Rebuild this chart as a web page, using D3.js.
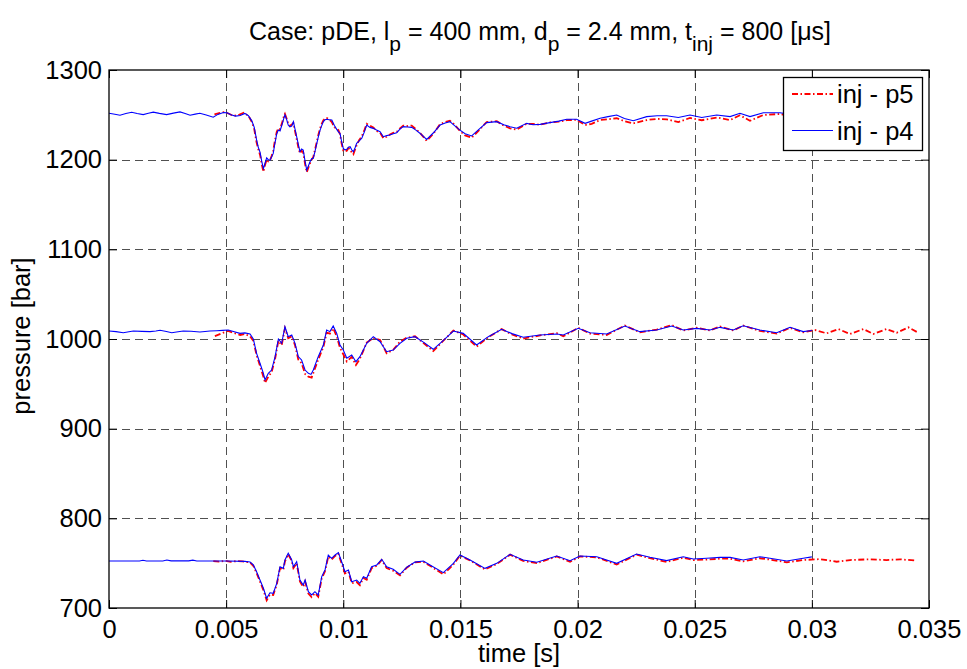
<!DOCTYPE html>
<html>
<head>
<meta charset="utf-8">
<script src="https://cdn.jsdelivr.net/npm/d3@7"></script>
<style>
  html, body { margin: 0; padding: 0; background: #fff; }
  svg { display: block; font-family: "Liberation Sans", Arial, Helvetica, sans-serif; }
</style>
</head>
<body>
<svg id="chart" width="967" height="669"></svg>
<script>
// Axis ticks
const xTicks = [0, 0.005, 0.01, 0.015, 0.02, 0.025, 0.03, 0.035];
const xTickLabels = ["0", "0.005", "0.01", "0.015", "0.02", "0.025", "0.03", "0.035"];
const yTicks = [700, 800, 900, 1000, 1100, 1200, 1300];

// Legend entries
const seriesNames = ["inj - p5", "inj - p4"];

// Pressure traces: [time in ms, pressure in bar]
// rail level ~1250 bar
const p4_1250 = [[0,1251.8],[0.25,1250.6],[0.47,1249.6],[0.72,1251.5],[0.97,1252.9],[1.2,1251.4],[1.46,1250.2],[1.68,1251.8],[1.89,1253.0],[2.15,1251.6],[2.46,1250.2],[2.75,1251.9],[3.03,1253.3],[3.25,1251.5],[3.46,1249.6],[3.68,1250.8],[3.88,1251.8],[4.15,1249.8],[4.45,1247.4],[4.65,1250.5],[4.88,1252.6],[5.04,1252.2],[5.2,1250.0],[5.4,1248.6],[5.6,1249.2],[5.8,1251.6],[5.95,1249.0],[6.1,1243],[6.2,1236],[6.3,1222],[6.37,1214],[6.45,1208],[6.52,1198],[6.59,1190],[6.66,1196],[6.73,1202],[6.8,1200],[6.87,1199.6],[6.94,1203],[7.01,1207],[7.08,1218],[7.16,1229],[7.23,1233],[7.3,1232],[7.36,1237],[7.41,1241],[7.46,1246],[7.51,1250],[7.58,1245],[7.65,1238.6],[7.72,1236.5],[7.8,1237.5],[7.87,1242.4],[7.94,1234],[8.01,1225.6],[8.08,1217],[8.15,1209],[8.22,1212],[8.29,1210.8],[8.37,1198],[8.44,1188.5],[8.51,1193],[8.58,1197.7],[8.65,1201],[8.72,1201.5],[8.8,1210],[8.87,1218.3],[8.94,1226],[9.01,1233],[9.08,1238],[9.15,1242.4],[9.22,1244.5],[9.29,1245],[9.4,1244.6],[9.51,1244.2],[9.62,1238],[9.72,1233.8],[9.79,1231],[9.86,1229.4],[9.93,1220],[10.0,1212.6],[10.07,1211],[10.15,1211.5],[10.22,1214],[10.29,1214.5],[10.36,1211],[10.43,1208.9],[10.5,1213],[10.57,1218.3],[10.68,1221],[10.79,1223.9],[10.9,1231],[11.0,1238.6],[11.14,1236],[11.28,1234.9],[11.42,1233],[11.57,1231.2],[11.71,1225.6],[11.85,1226.8],[11.99,1227.5],[12.13,1229],[12.28,1230.1],[12.42,1234],[12.56,1236.8],[12.74,1236.5],[12.92,1236.0],[13.1,1233],[13.27,1229.5],[13.56,1222.6],[13.85,1230],[14.13,1238.6],[14.35,1241],[14.55,1242.4],[14.75,1238],[14.98,1233],[15.2,1229],[15.48,1226.4],[15.8,1234],[16.12,1241.3],[16.55,1242.4],[16.85,1239],[17.12,1236.8],[17.4,1235],[17.83,1240.5],[18.1,1239],[18.4,1239.4],[18.82,1241.3],[19.2,1243],[19.54,1245],[19.96,1245],[20.32,1240.5],[20.6,1243],[20.96,1246.2],[21.3,1248],[21.67,1249.8],[22.0,1246],[22.38,1243.4],[22.95,1248],[23.4,1249],[23.8,1249],[24.3,1247],[24.8,1249.8],[25.3,1247],[25.94,1249.8],[26.51,1248],[26.93,1251.7],[27.36,1248],[27.93,1252.4],[28.64,1252.4],[29.2,1250],[30.0,1252]];
const p5_1250 = [[4.5,1250.5],[4.7,1252],[4.9,1253],[5.1,1251.5],[5.3,1249],[5.5,1249.5],[5.75,1252.3],[5.95,1249],[6.1,1242],[6.2,1234],[6.3,1219],[6.37,1212],[6.45,1205],[6.52,1195],[6.59,1186.5],[6.66,1194],[6.73,1200],[6.8,1198],[6.87,1199],[6.94,1204],[7.01,1210],[7.08,1221],[7.16,1231],[7.23,1235],[7.3,1234],[7.36,1239],[7.41,1243],[7.46,1248],[7.51,1251],[7.58,1246],[7.65,1240],[7.72,1238],[7.8,1239],[7.87,1241],[7.94,1232],[8.01,1223],[8.08,1214],[8.15,1207],[8.22,1210],[8.29,1208],[8.37,1195],[8.44,1186],[8.51,1191],[8.58,1196],[8.65,1200],[8.72,1203],[8.8,1212],[8.87,1220],[8.94,1228],[9.01,1235],[9.08,1240],[9.15,1244],[9.22,1246],[9.29,1246.5],[9.4,1245],[9.51,1242],[9.62,1236],[9.72,1235],[9.79,1233],[9.86,1228],[9.93,1218],[10.0,1210],[10.07,1209],[10.15,1210],[10.22,1213],[10.29,1212],[10.36,1208],[10.43,1206],[10.5,1211],[10.57,1216],[10.68,1222],[10.79,1226],[10.9,1233],[11.0,1240],[11.14,1238],[11.28,1236],[11.42,1232],[11.57,1230],[11.71,1224],[11.85,1225.5],[11.99,1228],[12.13,1230],[12.28,1231],[12.42,1235],[12.56,1238],[12.74,1237.5],[12.92,1238],[13.1,1234],[13.27,1230],[13.56,1221],[13.85,1229],[14.13,1239.5],[14.35,1242],[14.55,1243.5],[14.75,1239],[14.98,1232],[15.2,1227],[15.48,1224.5],[15.8,1233],[16.12,1242],[16.55,1242.8],[16.85,1238],[17.12,1235],[17.4,1233.5],[17.83,1240],[18.1,1240],[18.4,1239],[18.82,1241.5],[19.2,1242.5],[19.54,1244],[19.96,1244.5],[20.32,1238.6],[20.6,1240],[20.96,1244.2],[21.3,1245],[21.67,1246.2],[22.0,1243],[22.38,1240.5],[22.95,1244.2],[23.4,1245.5],[23.8,1245],[24.3,1242],[24.8,1246.5],[25.3,1244],[25.94,1247],[26.51,1244.2],[26.93,1249.5],[27.36,1243.4],[27.93,1249.8],[28.64,1251],[29.2,1248],[30,1250],[31,1248],[32,1250],[33,1248],[34.5,1249]];

// rail level ~1000 bar
const p4_1000 = [[0,1008.9],[0.3,1008.2],[0.61,1007.0],[0.85,1008.0],[1.04,1008.9],[1.4,1008.5],[1.75,1008.2],[2.0,1009.0],[2.18,1009.7],[2.45,1008.4],[2.68,1007.0],[2.95,1008.0],[3.17,1008.9],[3.5,1008.6],[3.88,1007.8],[4.1,1008.4],[4.31,1008.9],[4.6,1009.2],[4.85,1009.6],[5.09,1010.0],[5.35,1008.0],[5.59,1006.3],[5.8,1006.8],[6.02,1005.6],[6.16,1000.0],[6.30,984.0],[6.445,972.9],[6.59,961.7],[6.66,954.3],[6.80,961.7],[6.94,965.4],[7.09,980.3],[7.23,1000.0],[7.37,995.2],[7.51,1013.7],[7.65,1002.6],[7.80,1004.4],[7.94,995.2],[8.08,980.3],[8.22,976.6],[8.37,965.4],[8.51,961.7],[8.62,960.5],[8.72,965.4],[8.93,980.3],[9.15,993.3],[9.29,1010.0],[9.43,1008.2],[9.57,1014.5],[9.72,1006.3],[9.86,993.3],[10.0,987.7],[10.15,978.5],[10.36,982.2],[10.54,974.7],[10.71,980.3],[11.0,995.2],[11.28,1002.6],[11.57,997.0],[11.85,985.8],[12.13,987.7],[12.42,995.2],[12.71,1000.8],[13.06,1002.6],[13.45,996.0],[13.84,988.5],[14.25,998.0],[14.70,1008.9],[15.12,1006.3],[15.69,993.3],[16.19,1002.6],[16.76,1010.8],[17.2,1006.0],[17.68,1001.9],[18.40,1004.4],[19.11,1005.6],[19.39,1004.4],[20.03,1011.9],[20.53,1007.0],[21.24,1005.6],[22.02,1014.5],[22.66,1008.2],[23.38,1010.0],[24.02,1014.5],[24.51,1010.0],[25.08,1011.9],[25.65,1010.0],[26.08,1013.0],[26.65,1010.0],[27.07,1014.8],[27.78,1010.0],[28.50,1007.0],[29.07,1013.0],[29.63,1008.2],[30.0,1009.5]];
const p5_1000 = [[4.52,1003.3],[4.81,1006.3],[5.08,1009.0],[5.35,1006.5],[5.6,1004.5],[5.8,1005.5],[6.02,1003.0],[6.16,998.0],[6.30,982.0],[6.445,970.0],[6.59,958.0],[6.66,951.0],[6.80,958.0],[6.94,963.0],[7.09,978.0],[7.23,998.0],[7.37,993.0],[7.51,1012.0],[7.65,1001.0],[7.80,1003.0],[7.94,993.0],[8.08,977.0],[8.22,973.0],[8.37,961.0],[8.51,958.0],[8.65,957.0],[8.72,962.0],[8.93,977.0],[9.15,991.0],[9.29,1007.0],[9.43,1006.0],[9.57,1012.0],[9.72,1003.0],[9.86,990.0],[10.0,983.0],[10.15,975.0],[10.36,980.0],[10.54,971.0],[10.71,978.0],[11.0,996.0],[11.28,1001.0],[11.57,999.0],[11.85,984.0],[12.13,988.0],[12.42,997.0],[12.71,1001.5],[13.06,1003.0],[13.45,995.0],[13.84,986.5],[14.25,997.5],[14.70,1009.5],[15.12,1005.0],[15.69,991.5],[16.19,1002.0],[16.76,1011.0],[17.2,1005.0],[17.68,1000.5],[18.40,1004.0],[19.11,1006.5],[19.39,1003.0],[20.03,1012.5],[20.53,1006.0],[21.24,1004.5],[22.02,1015.0],[22.66,1007.5],[23.38,1010.5],[24.02,1015.5],[24.51,1009.5],[25.08,1012.5],[25.65,1009.5],[26.08,1014.0],[26.65,1009.5],[27.07,1015.0],[27.78,1009.0],[28.50,1006.0],[29.07,1012.5],[29.63,1007.5],[30.13,1010.0],[30.63,1006.3],[31.13,1011.1],[31.63,1005.6],[32.20,1011.1],[32.62,1005.6],[33.19,1011.1],[33.62,1007.0],[34.12,1013.0],[34.54,1007.0]];

// rail level ~750 bar
const p4_750 = [[0,752.4],[1.3,752.4],[1.45,753.3],[1.6,752.5],[2.3,752.5],[2.47,753.5],[2.65,752.6],[3.4,752.6],[3.58,753.4],[3.75,752.5],[5.0,752.5],[5.8,752.0],[6.02,751.3],[6.16,748.0],[6.30,740.5],[6.445,731.2],[6.59,722.0],[6.73,710.8],[6.87,717.0],[7.01,716.4],[7.16,727.5],[7.30,746.0],[7.44,744.2],[7.51,753.5],[7.65,761.0],[7.80,753.5],[7.87,746.0],[8.01,751.6],[8.15,731.2],[8.29,725.6],[8.37,731.2],[8.51,718.2],[8.65,714.5],[8.79,718.2],[8.93,714.5],[9.08,735.0],[9.22,742.4],[9.36,759.1],[9.50,755.4],[9.65,759.1],[9.79,761.7],[9.93,751.6],[10.07,740.5],[10.22,742.4],[10.36,729.3],[10.57,731.2],[10.71,727.5],[10.86,735.0],[11.0,733.1],[11.21,746.0],[11.43,748.0],[11.64,754.3],[11.85,746.0],[12.13,743.2],[12.42,737.5],[12.71,745.5],[13.06,751.2],[13.42,752.4],[13.70,748.0],[14.27,739.4],[14.70,749.8],[14.98,759.1],[15.41,753.5],[16.05,744.2],[16.55,749.8],[17.12,759.9],[17.68,753.5],[18.26,751.0],[19.11,758.0],[19.68,752.8],[20.10,758.0],[20.82,757.2],[21.67,749.8],[22.52,760.2],[23.09,756.5],[23.80,752.8],[24.51,757.2],[24.94,754.6],[25.51,755.4],[26.08,756.5],[26.51,756.5],[27.07,753.5],[27.78,757.2],[28.21,755.4],[28.93,752.4],[29.63,755.4],[30.0,757.0]];
const p5_750 = [[4.45,752.2],[4.7,751.8],[4.95,752.6],[5.2,751.5],[5.45,752.3],[5.7,751.9],[6.02,750.8],[6.16,747.0],[6.30,739.0],[6.445,729.5],[6.59,720.0],[6.73,708.5],[6.87,715.0],[7.01,714.5],[7.16,726.0],[7.30,744.5],[7.44,742.5],[7.51,752.0],[7.65,760.0],[7.80,752.5],[7.87,744.5],[8.01,750.0],[8.15,729.5],[8.29,723.5],[8.37,729.5],[8.51,716.0],[8.65,712.0],[8.79,716.5],[8.93,712.5],[9.08,733.0],[9.22,741.0],[9.36,757.5],[9.50,754.0],[9.65,758.0],[9.79,760.5],[9.93,749.5],[10.07,738.5],[10.22,740.5],[10.36,727.5],[10.57,729.0],[10.71,725.5],[10.86,733.5],[11.0,731.5],[11.21,744.5],[11.43,747.0],[11.64,753.5],[11.85,744.5],[12.13,741.5],[12.42,736.5],[12.71,745.0],[13.06,751.0],[13.42,751.5],[13.70,747.0],[14.27,737.5],[14.70,748.5],[14.98,758.5],[15.41,753.0],[16.05,743.0],[16.55,749.0],[17.12,759.5],[17.68,752.5],[18.26,750.0],[19.11,757.5],[19.68,751.5],[20.10,757.5],[20.82,756.5],[21.67,748.5],[22.52,759.5],[23.09,755.5],[23.80,751.5],[24.51,756.0],[24.94,753.5],[25.51,754.0],[26.08,755.0],[26.51,755.0],[27.07,752.0],[27.78,755.5],[28.21,754.0],[28.93,751.0],[29.63,753.5],[30.35,754.5],[31.06,751.6],[31.63,753.5],[32.48,754.3],[33.19,753.5],[33.76,754.3],[34.47,752.8]];

const redTraces = [p5_1250, p5_1000, p5_750];
const blueTraces = [p4_1250, p4_1000, p4_750];

const svg = d3.select("#chart");
const margin = { left: 109, right: 38, top: 70, bottom: 61 };
const W = 967, H = 669;
const x = d3.scaleLinear().domain([0, 0.035]).range([margin.left, W - margin.right]);
const y = d3.scaleLinear().domain([700, 1300]).range([H - margin.bottom, margin.top]);

const x0 = x.range()[0], x1 = x.range()[1];
const y0 = y.range()[0], y1 = y.range()[1];

svg.append("defs").append("clipPath").attr("id", "plotclip")
  .append("rect").attr("x", x0).attr("y", y1).attr("width", x1 - x0).attr("height", y0 - y1);

// Dashed grid
const grid = svg.append("g").attr("stroke", "#505050").attr("stroke-width", 1).attr("stroke-dasharray", "8,5");
grid.selectAll(".gx").data(xTicks.slice(1, -1)).join("line")
  .attr("x1", d => Math.round(x(d)) + 0.5).attr("x2", d => Math.round(x(d)) + 0.5)
  .attr("y1", y1).attr("y2", y0);
grid.selectAll(".gy").data(yTicks.slice(1, -1)).join("line")
  .attr("y1", d => Math.round(y(d)) + 0.5).attr("y2", d => Math.round(y(d)) + 0.5)
  .attr("x1", x0).attr("x2", x1);

// Traces
const line = d3.line().x(d => x(d[0] / 1000)).y(d => y(d[1]));
const plot = svg.append("g").attr("clip-path", "url(#plotclip)");
plot.selectAll(".red").data(redTraces).join("path")
  .attr("d", line).attr("fill", "none").attr("stroke", "#ff0000")
  .attr("stroke-width", 1.8).attr("stroke-dasharray", "6,2.5,1.5,2.5");
plot.selectAll(".blue").data(blueTraces).join("path")
  .attr("d", line).attr("fill", "none").attr("stroke", "#0000ff")
  .attr("stroke-width", 1.1);

// Axes: box with inward ticks on all four sides
const tickLen = 8;
const fontSize = 25.5;
const axB = svg.append("g").attr("transform", `translate(0,${y0})`)
  .call(d3.axisBottom(x).tickValues(xTicks).tickSizeInner(-tickLen).tickSizeOuter(0)
    .tickFormat((d, i) => xTickLabels[i]).tickPadding(12));
const axT = svg.append("g").attr("transform", `translate(0,${y1})`)
  .call(d3.axisTop(x).tickValues(xTicks).tickSizeInner(-tickLen).tickSizeOuter(0).tickFormat(""));
const axL = svg.append("g").attr("transform", `translate(${x0},0)`)
  .call(d3.axisLeft(y).tickValues(yTicks).tickSizeInner(-tickLen).tickSizeOuter(0).tickPadding(7)
    .tickFormat(d3.format("d")));
const axR = svg.append("g").attr("transform", `translate(${x1},0)`)
  .call(d3.axisRight(y).tickValues(yTicks).tickSizeInner(-tickLen).tickSizeOuter(0).tickFormat(""));
[axB, axT, axL, axR].forEach(a => {
  a.select(".domain").remove();
  a.selectAll(".tick line").attr("stroke", "#000").attr("stroke-width", 1);
  a.selectAll("text").attr("fill", "#000").attr("font-size", fontSize)
    .attr("font-family", "Liberation Sans, Arial, sans-serif");
});
axB.selectAll("text").attr("dy", "0.71em");
svg.append("rect").attr("x", x0).attr("y", y1).attr("width", x1 - x0).attr("height", y0 - y1)
  .attr("fill", "none").attr("stroke", "#000").attr("stroke-width", 1.3);

// Axis titles
svg.append("text").attr("x", (x0 + x1) / 2).attr("y", 662).attr("text-anchor", "middle")
  .attr("font-size", fontSize).text("time [s]");
svg.append("text").attr("transform", `translate(30,${(y0 + y1) / 2 - 3}) rotate(-90)`)
  .attr("text-anchor", "middle").attr("font-size", fontSize).text("pressure [bar]");

// Title with subscripts
const title = svg.append("text").attr("x", 540).attr("y", 40).attr("text-anchor", "middle")
  .attr("font-size", 25);
const parts = [
  ["Case: pDE, l", 0], ["p", 1], [" = 400 mm, d", 0], ["p", 1],
  [" = 2.4 mm, t", 0], ["inj", 1], [" = 800 [\u03bcs]", 0]
];
let lvl = 0;
parts.forEach(([txt, sub]) => {
  const dy = sub === lvl ? 0 : (sub ? 11 : -11);
  title.append("tspan").attr("dy", dy).attr("font-size", sub ? 21 : 25).text(txt);
  lvl = sub;
});

// Legend
const lg = svg.append("g");
lg.append("rect").attr("x", 783.5).attr("y", 77.5).attr("width", 139).attr("height", 73)
  .attr("fill", "#fff").attr("stroke", "#000").attr("stroke-width", 1.3);
const legendRows = [
  { name: seriesNames[0], color: "#ff0000", dash: "6,2.5,1.5,2.5", w: 1.8, cy: 94 },
  { name: seriesNames[1], color: "#0000ff", dash: null, w: 1.1, cy: 130.5 }
];
legendRows.forEach(r => {
  lg.append("line").attr("x1", 792).attr("x2", 833).attr("y1", r.cy).attr("y2", r.cy)
    .attr("stroke", r.color).attr("stroke-width", r.w).attr("stroke-dasharray", r.dash);
  lg.append("text").attr("x", 837).attr("y", r.cy + 9).attr("font-size", fontSize).text(r.name);
});
</script>
</body>
</html>
